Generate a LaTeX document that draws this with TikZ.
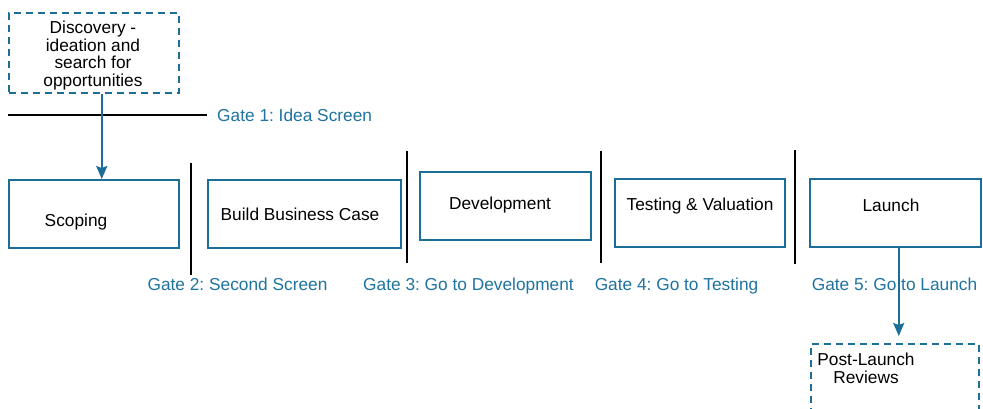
\documentclass[tikz,border=0pt]{standalone}
\usepackage{fontspec}
\setmainfont{Liberation Sans}
\frenchspacing
\usetikzlibrary{arrows.meta}
\definecolor{flowblue}{RGB}{28,110,150}
\definecolor{gatetext}{RGB}{30,115,160}
\begin{document}
\begin{tikzpicture}[x=1pt,y=-1pt,
  txt/.style={font=\fontsize{17.3}{17.7}\selectfont, inner sep=0pt, anchor=base},
  stagebox/.style={draw=flowblue, line width=1.5pt, inner sep=0pt, anchor=north west},
  optbox/.style={stagebox, dash pattern=on 7pt off 5pt},
  gateline/.style={draw=black, line width=2.3pt},
  gatelabel/.style={txt, text=gatetext},
  flowarrow/.style={draw=flowblue, line width=2pt, -{Stealth[length=13pt,width=11pt,inset=2pt]}}]
\useasboundingbox (0,0) rectangle (983,408);

% stage boxes
\node[optbox, minimum width=170pt, minimum height=80pt] (disc) at (8,12) {};
\node[stagebox, minimum width=170pt, minimum height=68pt] (scope) at (8,179) {};
\node[stagebox, minimum width=193pt, minimum height=68pt] (build) at (207,179) {};
\node[stagebox, minimum width=171pt, minimum height=68pt] (dev) at (419,171) {};
\node[stagebox, minimum width=170pt, minimum height=68pt] (test) at (614,178) {};
\node[stagebox, minimum width=171pt, minimum height=68pt] (launch) at (809,178) {};
\node[optbox, minimum width=168pt, minimum height=80pt] (post) at (810,343) {};

% box texts
\node[txt, align=center, anchor=north] (disctxt) at (93,20.8)
  {Discovery -\\ideation and\\search for\\opportunities};
\node[txt] (scopetxt) at (76,226) {Scoping};
\node[txt] (buildtxt) at (300,220) {Build Business Case};
\node[txt] (devtxt) at (500,209) {Development};
\node[txt] (testtxt) at (700,210) {Testing \& Valuation};
\node[txt] (launchtxt) at (891,211) {Launch};
\node[txt, align=center, anchor=north] (posttxt) at (866,352.8) {Post-Launch\\Reviews};

% gates
\coordinate (g1a) at (8,115);   \coordinate (g1b) at (207,115);
\coordinate (g2a) at (191,163); \coordinate (g2b) at (191,275);
\coordinate (g3a) at (407,151); \coordinate (g3b) at (407,263);
\coordinate (g4a) at (601,151); \coordinate (g4b) at (601,263);
\coordinate (g5a) at (795,150); \coordinate (g5b) at (795,264);
\draw[gateline] (g1a) -- (g1b);
\draw[gateline] (g2a) -- (g2b);
\draw[gateline] (g3a) -- (g3b);
\draw[gateline] (g4a) -- (g4b);
\draw[gateline] (g5a) -- (g5b);

\node[gatelabel, anchor=base west] (l1) at (217,121) {Gate 1: Idea Screen};
\node[gatelabel] (l2) at (237.5,290) {Gate 2: Second Screen};
\node[gatelabel] (l3) at (468.5,290) {Gate 3: Go to Development};
\node[gatelabel] (l4) at (676.5,290) {Gate 4: Go to Testing};
\node[gatelabel] (l5) at (894.5,290) {Gate 5: Go to Launch};

% flow arrows
\draw[flowarrow] ([xshift=8pt]disc.south) -- ([xshift=8pt]scope.north);
\draw[flowarrow] ([xshift=3.5pt]launch.south) -- ([xshift=4pt,yshift=7pt]post.north);
\end{tikzpicture}
\end{document}
